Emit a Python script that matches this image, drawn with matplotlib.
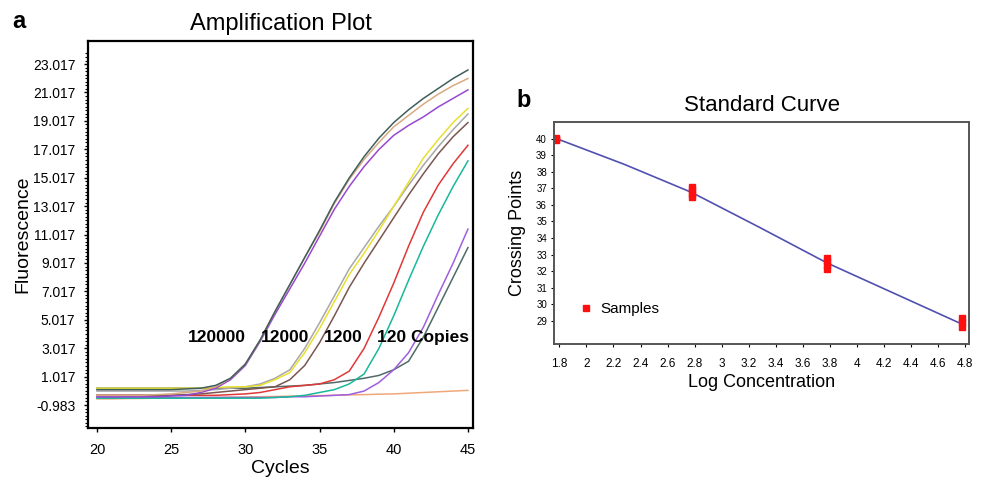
import matplotlib
matplotlib.use('Agg')
import matplotlib.pyplot as plt
from matplotlib.ticker import FixedLocator

plt.rcParams['font.family'] = ['Liberation Sans', 'DejaVu Sans']

# ---- panel a: amplification curves (fluorescence per cycle) ----
cycles = list(range(20, 46))

amp_120000_a = [0.1, 0.1, 0.1, 0.1, 0.1, 0.1, 0.15, 0.2, 0.4, 0.9, 1.9, 3.6, 5.6, 7.5, 9.4,
                11.3, 13.3, 15.0, 16.5, 17.8, 18.9, 19.8, 20.6, 21.3, 22.0, 22.6]
amp_120000_b = [-0.3, -0.3, -0.3, -0.3, -0.25, -0.2, -0.1, 0.0, 0.3, 0.9, 1.9, 3.6, 5.6, 7.5, 9.4,
                11.2, 13.2, 14.9, 16.3, 17.5, 18.6, 19.4, 20.2, 20.9, 21.5, 22.0]
amp_120000_c = [-0.4, -0.4, -0.4, -0.4, -0.4, -0.35, -0.3, -0.1, 0.2, 0.8, 1.8, 3.5, 5.4, 7.2, 9.0,
                10.9, 12.8, 14.4, 15.8, 17.0, 18.0, 18.7, 19.3, 20.0, 20.6, 21.2]
amp_12000_a = [0.2, 0.2, 0.2, 0.2, 0.2, 0.2, 0.2, 0.2, 0.25, 0.3, 0.3, 0.4, 0.8, 1.3, 2.7,
               4.4, 6.3, 8.2, 9.7, 11.3, 13.0, 14.7, 16.4, 17.7, 18.9, 19.9]
amp_12000_b = [0.0, 0.0, 0.0, 0.0, 0.0, 0.0, 0.0, 0.05, 0.1, 0.2, 0.3, 0.5, 0.9, 1.5, 3.0,
               4.8, 6.7, 8.6, 10.1, 11.6, 13.0, 14.5, 15.9, 17.2, 18.4, 19.5]
amp_12000_c = [-0.3, -0.3, -0.3, -0.3, -0.3, -0.3, -0.25, -0.2, -0.1, 0.0, 0.1, 0.2, 0.3, 0.8, 1.8,
               3.4, 5.3, 7.3, 9.0, 10.6, 12.2, 13.8, 15.3, 16.7, 17.9, 18.9]
amp_1200_a = [-0.3, -0.3, -0.3, -0.3, -0.3, -0.3, -0.3, -0.3, -0.3, -0.25, -0.2, -0.1, 0.1, 0.3, 0.4,
              0.5, 0.8, 1.4, 3.0, 5.2, 7.6, 10.2, 12.6, 14.5, 16.0, 17.3]
amp_1200_b = [-0.5, -0.5, -0.5, -0.5, -0.5, -0.5, -0.5, -0.5, -0.5, -0.5, -0.5, -0.5, -0.45, -0.4, -0.3,
              -0.1, 0.1, 0.5, 1.2, 3.0, 5.3, 7.8, 10.2, 12.4, 14.4, 16.2]
amp_120_a = [-0.45, -0.45, -0.45, -0.45, -0.45, -0.45, -0.45, -0.45, -0.45, -0.45, -0.45, -0.45, -0.45, -0.4, -0.4,
             -0.35, -0.3, -0.25, 0.0, 0.6, 1.5, 2.7, 4.5, 6.8, 9.0, 11.4]
amp_120_b = [0.2, 0.2, 0.2, 0.2, 0.2, 0.2, 0.2, 0.2, 0.2, 0.2, 0.2, 0.25, 0.3, 0.35, 0.4,
             0.5, 0.6, 0.75, 0.9, 1.1, 1.5, 2.1, 3.8, 5.9, 8.0, 10.1]
amp_ntc = [-0.55, -0.55, -0.53, -0.52, -0.5, -0.5, -0.48, -0.46, -0.45, -0.43, -0.42, -0.4, -0.38, -0.36, -0.34,
           -0.32, -0.3, -0.27, -0.25, -0.22, -0.2, -0.15, -0.1, -0.05, 0.0, 0.05]

amp_series = [amp_ntc, amp_120_b, amp_120_a, amp_1200_b, amp_1200_a,
              amp_12000_c, amp_12000_b, amp_12000_a,
              amp_120000_c, amp_120000_b, amp_120000_a]
amp_colors = ['#f0a878', '#506a68', '#a05ee0', '#18b89a', '#e03838',
              '#7a5650', '#a8a8a8', '#e8e030',
              '#9848d0', '#d8aa80', '#3f5f5c']

amp_yticks = [-0.983, 1.017, 3.017, 5.017, 7.017, 9.017, 11.017, 13.017,
              15.017, 17.017, 19.017, 21.017, 23.017]
amp_labels = ['120000', '12000', '1200', '120 Copies']
amp_label_x = [28.1, 32.7, 36.6, 42.0]

# ---- panel b: standard curve ----
log_conc = [1.778, 1.778, 1.778,
            2.778, 2.778, 2.778, 2.778,
            3.778, 3.778, 3.778, 3.778,
            4.778, 4.778, 4.778]
crossing = [40.05, 39.98, 39.92,
            37.1, 36.9, 36.65, 36.5,
            32.8, 32.6, 32.35, 32.15,
            29.2, 28.9, 28.6]
fit_x = [1.778, 2.278, 2.778, 3.278, 3.778, 4.278, 4.778]
fit_y = [40.0, 38.45, 36.75, 34.65, 32.5, 30.65, 28.8]
conc_ticks = [1.8, 2.0, 2.2, 2.4, 2.6, 2.8, 3.0, 3.2, 3.4, 3.6, 3.8, 4.0, 4.2, 4.4, 4.6, 4.8]

fig = plt.figure(figsize=(9.87, 4.78), dpi=100)

# panel a
ax = fig.add_axes([0.0892, 0.1046, 0.390, 0.8096])
for vals, col in zip(amp_series, amp_colors):
    ax.plot(cycles, vals, color=col, lw=1.1)
for lab, lx in zip(amp_labels, amp_label_x):
    ax.text(lx, 3.8, lab, ha='center', va='center', fontsize=12.5, fontweight='bold')
ax.set_xlim(19.4, 45.34)
ax.set_ylim(-2.6, 24.64)
ax.set_xticks([20, 25, 30, 35, 40, 45])
ax.set_yticks(amp_yticks)
ax.set_yticklabels(['%.3f' % v for v in amp_yticks])
ax.yaxis.set_minor_locator(FixedLocator([v / 4.0 - 0.983 for v in range(-6, 100)]))
ax.tick_params(axis='y', which='minor', length=2, width=0.8)
ax.tick_params(axis='both', which='major', length=3, width=1, pad=6)
ax.tick_params(axis='y', labelsize=10)
ax.tick_params(axis='x', labelsize=10.5, pad=8)
for s in ax.spines.values():
    s.set_linewidth(1.6)
ax.set_xlabel('Cycles', fontsize=14, labelpad=2)
ax.set_ylabel('Fluorescence', fontsize=14)
ax.yaxis.set_label_coords(-0.148, 0.5)
ax.set_title('Amplification Plot', fontsize=17, pad=8)
fig.text(0.012, 0.955, 'a', fontsize=17, fontweight='bold', va='center')

# panel b
bx = fig.add_axes([0.5613, 0.2803, 0.4205, 0.4645])
bx.plot(fit_x, fit_y, color='#5050b0', lw=1.2)
bx.plot(log_conc, crossing, 's', color='#ff1010', ms=4, ls='none', label='Samples')
bx.set_xlim(1.76, 4.83)
bx.set_ylim(27.6, 41.0)
bx.set_xticks(conc_ticks)
bx.set_xticklabels(['%g' % v for v in conc_ticks])
bx.set_yticks(list(range(29, 41)))
bx.tick_params(axis='x', length=2, pad=8, labelsize=8.5)
bx.tick_params(axis='y', length=2, pad=3, labelsize=7)
for s in bx.spines.values():
    s.set_linewidth(1.4)
    s.set_color('#555555')
bx.set_xlabel('Log Concentration', fontsize=13, labelpad=3)
bx.set_ylabel('Crossing Points', fontsize=13)
bx.yaxis.set_label_coords(-0.068, 0.5)
bx.set_title('Standard Curve', fontsize=16, pad=8)
bx.legend(loc='center left', bbox_to_anchor=(0.03, 0.158), frameon=False,
          handlelength=0.8, handletextpad=0.5, fontsize=11)
fig.text(0.523, 0.79, 'b', fontsize=17, fontweight='bold', va='center')

fig.savefig('out.png', dpi=100)
